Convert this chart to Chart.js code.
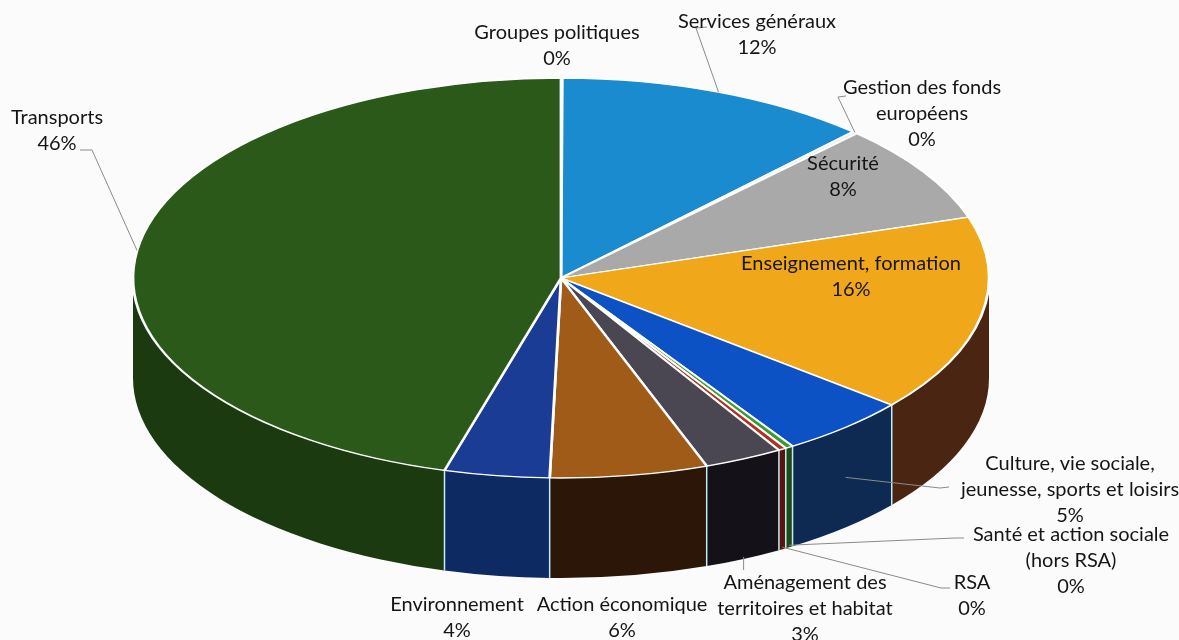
<!DOCTYPE html>
<html>
<head>
<meta charset="utf-8">
<script src="https://cdn.jsdelivr.net/npm/chart.js@4/dist/chart.umd.min.js"></script>
<style>
html, body { margin: 0; padding: 0; background: #fbfbfb; }
#wrap { width: 1179px; height: 640px; }
</style>
</head>
<body>
<div id="wrap"><canvas id="pie"></canvas></div>
<script>
// data, clockwise from the top
var categories = ["Groupes politiques", "Services généraux", "Gestion des fonds européens", "Sécurité",
    "Enseignement, formation", "Culture, vie sociale, jeunesse, sports et loisirs",
    "Santé et action sociale (hors RSA)", "RSA", "Aménagement des territoires et habitat",
    "Action économique", "Environnement", "Transports"];
var values = [0.05, 12, 0.2, 8, 16, 5, 0.3, 0.3, 3, 6, 4, 46];

// how each label wraps
var labelLines = [
    ["Groupes politiques"],
    ["Services généraux"],
    ["Gestion des fonds", "européens"],
    ["Sécurité"],
    ["Enseignement, formation"],
    ["Culture, vie sociale,", "jeunesse, sports et loisirs"],
    ["Santé et action sociale", "(hors RSA)"],
    ["RSA"],
    ["Aménagement des", "territoires et habitat"],
    ["Action économique"],
    ["Environnement"],
    ["Transports"]
];

var topColors = ["#cfe9f2", "#1b8bd0", "#eeeeee", "#a9a9a9", "#f0a81a", "#0c52c4",
    "#3a9a34", "#b23222", "#4a4652", "#a15b19", "#1b3c94", "#2b5919"];
var sideColors = ["#9fc7d6", "#0f4f7a", "#bbbbbb", "#5a5a5a", "#4a2612", "#0f2a52",
    "#1d4a18", "#5a1410", "#151118", "#2b1608", "#0e2a62", "#1b3a10"];

// where the pie sits on the page
var CX = 561, CY = 278, RX = 428, RY = 200, DEPTH = 100;

// label placement: centre x, first line y, leader start/elbow, anchor kind
var labelAt = [
    { x: 557, y: 33 },
    { x: 757, y: 22, from: [707, 27], elbow: [696, 28], anchor: "top" },
    { x: 922, y: 88, from: [846, 96], elbow: [838, 97], anchor: "top" },
    { x: 843, y: 164 },
    { x: 851, y: 264 },
    { x: 1070, y: 464, from: [949, 487], elbow: [940, 488], anchor: "mid" },
    { x: 1071, y: 535, from: [964, 538], elbow: [955, 538], anchor: "bottom" },
    { x: 972, y: 583, from: [950, 588], elbow: [941, 588], anchor: "bottom" },
    { x: 805, y: 583, from: [null, 570], anchor: "bottom" },
    { x: 622, y: 605 },
    { x: 457, y: 605 },
    { x: 57, y: 118, from: [80, 150], elbow: [92, 150], anchor: "top" }
];

var total = values.reduce(function (a, b) { return a + b; }, 0);

var pie3d = {
    id: 'pie3d',
    beforeDatasetsDraw: function (chart) {
        var ctx = chart.ctx;
        var arcs = chart.getDatasetMeta(0).data;
        // side wall, only the front half (angles 0..PI) shows
        arcs.forEach(function (arc, i) {
            var a = Math.max(arc.startAngle, 0);
            var b = Math.min(arc.endAngle, Math.PI);
            if (b <= a) return;
            ctx.beginPath();
            ctx.ellipse(CX, CY, RX, RY, 0, a, b);
            ctx.ellipse(CX, CY + DEPTH, RX, RY, 0, b, a, true);
            ctx.closePath();
            ctx.fillStyle = sideColors[i];
            ctx.fill();
        });
        ctx.strokeStyle = "#c4ecf8";
        ctx.lineWidth = 1.5;
        arcs.forEach(function (arc) {
            var t = arc.startAngle;
            if (t > 0.01 && t < Math.PI - 0.01) {
                var px = CX + RX * Math.cos(t), py = CY + RY * Math.sin(t);
                ctx.beginPath();
                ctx.moveTo(px, py);
                ctx.lineTo(px, py + DEPTH);
                ctx.stroke();
            }
        });
        // squash the library's circle into the top face
        var r = arcs[0].outerRadius;
        ctx.save();
        ctx.translate(CX, CY);
        ctx.scale(RX / r, RY / r);
        ctx.translate(-arcs[0].x, -arcs[0].y);
    },
    afterDatasetsDraw: function (chart) {
        chart.ctx.restore();
    },
    afterDraw: function (chart) {
        var ctx = chart.ctx;
        var arcs = chart.getDatasetMeta(0).data;
        ctx.save();
        // leader lines
        ctx.strokeStyle = "#8a8a8a";
        ctx.lineWidth = 1;
        labelAt.forEach(function (lab, i) {
            if (!lab.anchor) return;
            var arc = arcs[i];
            var m = (arc.startAngle + arc.endAngle) / 2;
            var ax = CX + RX * Math.cos(m), ay = CY + RY * Math.sin(m);
            if (lab.anchor === "mid") ay += DEPTH / 2;
            if (lab.anchor === "bottom") ay += DEPTH - 2;
            ctx.beginPath();
            var sx = lab.from[0] === null ? ax : lab.from[0];
            ctx.moveTo(sx, lab.from[1]);
            if (lab.elbow) ctx.lineTo(lab.elbow[0], lab.elbow[1]);
            ctx.lineTo(ax, ay);
            ctx.stroke();
        });
        // labels
        ctx.fillStyle = "#151515";
        ctx.font = "20px Lato";
        ctx.textAlign = "center";
        ctx.textBaseline = "middle";
        labelAt.forEach(function (lab, i) {
            var lines = labelLines[i].concat([Math.round(values[i] / total * 100) + "%"]);
            lines.forEach(function (s, k) {
                ctx.fillText(s, lab.x, lab.y + k * 26);
            });
        });
        ctx.restore();
    }
};

var ctx = document.getElementById("pie").getContext('2d');
var chart = new Chart(ctx, {
    type: 'pie',
    data: {
        labels: categories,
        datasets: [
            {
                data: values,
                backgroundColor: topColors,
                borderColor: "#ffffff",
                borderWidth: 2,
                clip: false
            }
        ]
    },
    options: {
        responsive: true,
        maintainAspectRatio: false,
        animation: false,
        events: [],
        layout: { padding: 10 },
        plugins: {
            legend: { display: false },
            tooltip: { enabled: false }
        }
    },
    plugins: [pie3d]
});
</script>
</body>
</html>
